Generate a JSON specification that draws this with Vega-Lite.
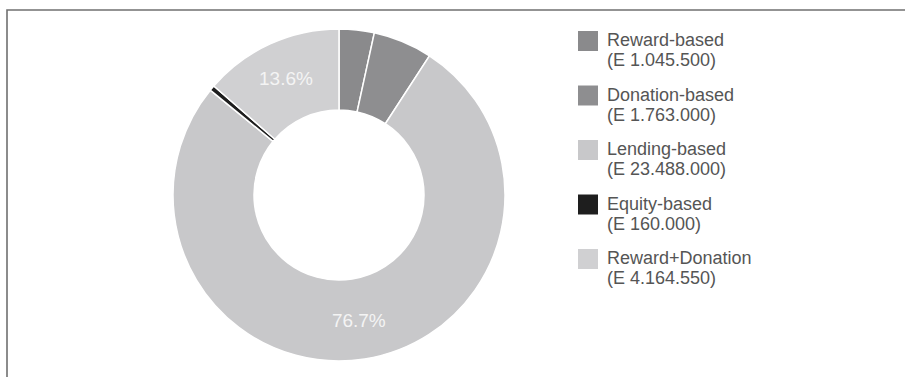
{
  "$schema": "https://vega.github.io/schema/vega-lite/v6.json",
  "width": 920,
  "height": 380,
  "autosize": "none",
  "padding": {"left": 7, "top": 10, "right": -22, "bottom": -13},
  "background": "white",
  "view": {"stroke": "#707070", "strokeWidth": 1.6},
  "config": {
    "view": {"stroke": "#707070", "strokeWidth": 1.6},
    "font": "Liberation Sans"
  },
  "data": {
    "values": [
      {"segment": "Reward-based|(E 1.045.500)", "amount": 1045500, "order": 1, "pct": ""},
      {"segment": "Donation-based|(E 1.763.000)", "amount": 1763000, "order": 2, "pct": ""},
      {"segment": "Lending-based|(E 23.488.000)", "amount": 23488000, "order": 3, "pct": "76.7%"},
      {"segment": "Equity-based|(E 160.000)", "amount": 160000, "order": 4, "pct": ""},
      {"segment": "Reward+Donation|(E 4.164.550)", "amount": 4164550, "order": 5, "pct": "13.6%"}
    ]
  },
  "encoding": {
    "theta": {"field": "amount", "type": "quantitative", "stack": true},
    "order": {"field": "order", "type": "quantitative"}
  },
  "layer": [
    {
      "mark": {"type": "arc", "innerRadius": 85, "outerRadius": 166, "x": 332, "y": 185, "stroke": "white", "strokeWidth": 1.5},
      "encoding": {
        "color": {
          "field": "segment",
          "type": "nominal",
          "sort": null,
          "scale": {
            "domain": ["Reward-based|(E 1.045.500)", "Donation-based|(E 1.763.000)", "Lending-based|(E 23.488.000)", "Equity-based|(E 160.000)", "Reward+Donation|(E 4.164.550)"],
            "range": ["#8a8a8c", "#8e8e90", "#c8c8ca", "#1e1e1e", "#d0d0d2"]
          },
          "legend": {
            "title": null,
            "orient": "none",
            "legendX": 571,
            "legendY": 21,
            "symbolType": "square",
            "symbolSize": 400,
            "symbolStrokeWidth": 0,
            "labelFontSize": 18,
            "labelColor": "#555555",
            "labelLimit": 300,
            "labelOffset": 9,
            "rowPadding": 15.5,
            "labelExpr": "split(datum.label, '|')",
            "labelBaseline": "middle"
          }
        }
      }
    },
    {
      "mark": {"type": "text", "radius": 128, "x": 332, "y": 185, "fill": "#f4f4f4", "fontSize": 19},
      "encoding": {"text": {"field": "pct"}}
    }
  ]
}
